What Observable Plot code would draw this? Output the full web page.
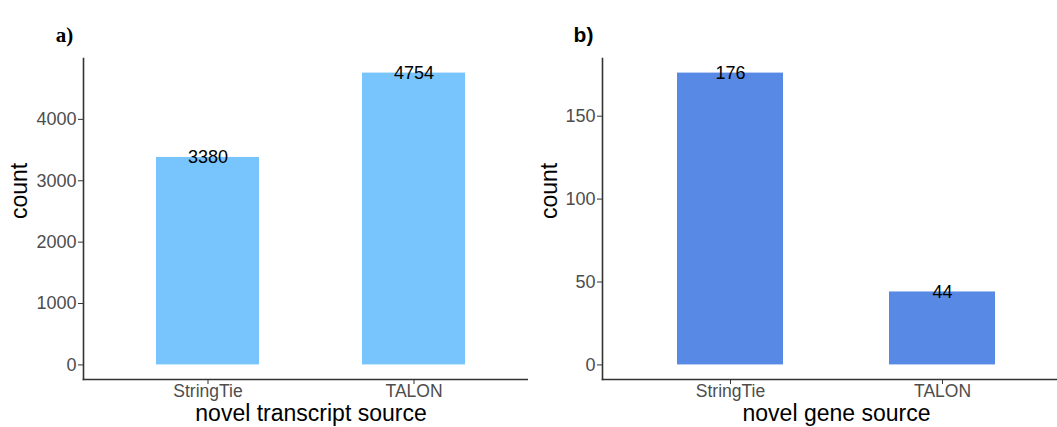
<!DOCTYPE html>
<html>
<head>
<meta charset="utf-8">
<script src="https://cdn.jsdelivr.net/npm/d3@7"></script>
<script src="https://cdn.jsdelivr.net/npm/@observablehq/plot@0.6"></script>
<style>
  html, body { margin: 0; padding: 0; background: #fff; }
  #wrap { position: relative; width: 1057px; height: 427px; overflow: hidden; }
  .panel { position: absolute; top: 0; overflow: hidden; height: 427px; }
  .panel svg { max-width: none !important; height: 427px !important; }
  #pa { left: 0; width: 533px; }
  #pb { left: 528px; width: 529px; }
</style>
</head>
<body>
<div id="wrap"><div class="panel" id="pa"></div><div class="panel" id="pb"></div></div>
<script>
const sources = ["StringTie", "TALON"];
const transcriptCounts = [3380, 4754];
const geneCounts = [176, 44];
const transcriptTicks = [0, 1000, 2000, 3000, 4000];
const geneTicks = [0, 50, 100, 150];
const panelTags = ["a)", "b)"];
const xTitles = ["novel transcript source", "novel gene source"];
const yTitle = "count";

function panel({counts, ticks, color, xTitle, tag, tagFont, width, marginLeft, titleDx}) {
  const data = sources.map((s, i) => ({source: s, count: counts[i]}));
  const max = d3.max(counts);
  return Plot.plot({
    width, height: 427,
    marginLeft, marginRight: 0, marginTop: 58, marginBottom: 48,
    style: {fontFamily: "'Liberation Sans', Arial, sans-serif", fontSize: "18px", background: "white", overflow: "visible", maxWidth: "none"},
    x: {type: "band", domain: sources, paddingInner: 0.5, paddingOuter: 0.35, label: null},
    y: {domain: [-0.05 * max, 1.05 * max], label: null},
    marks: [
      Plot.barY(data, {x: "source", y1: 0, y2: "count", fill: color}),
      Plot.text(data, {x: "source", y: "count", text: d => String(d.count), fill: "black", fontSize: 18}),
      Plot.frame({anchor: "left", stroke: "#333", strokeWidth: 1.6}),
      Plot.frame({anchor: "bottom", stroke: "#333", strokeWidth: 1.6}),
      Plot.axisY({ticks, tickFormat: d3.format("d"), tickSize: 5, tickPadding: 2, stroke: "#333", fill: "#4d4d4d", fontSize: 18, label: null}),
      Plot.axisX({tickSize: 5, tickPadding: 0, stroke: "#333", fill: "#4d4d4d", fontSize: 17.5, label: null}),
      Plot.text([xTitle], {frameAnchor: "bottom", dy: 41, text: d => d, fontSize: 23, fill: "black"}),
      Plot.text([yTitle], {frameAnchor: "left", dx: titleDx, rotate: -90, text: d => d, fontSize: 23, fill: "black"}),
      Plot.text([tag], {frameAnchor: "top-left", dx: -19, dy: -31, text: d => d, fontSize: 21, fontWeight: "bold", fontFamily: tagFont, fill: "black", textAnchor: "middle"})
    ]
  });
}

document.getElementById("pa").append(panel({
  counts: transcriptCounts, ticks: transcriptTicks, color: "#78C4FC",
  xTitle: xTitles[0], tag: panelTags[0], tagFont: "'Liberation Serif', 'Times New Roman', serif",
  width: 538, marginLeft: 83, titleDx: -64
}));
document.getElementById("pb").append(panel({
  counts: geneCounts, ticks: geneTicks, color: "#5889E4",
  xTitle: xTitles[1], tag: panelTags[1], tagFont: "'Liberation Sans', Arial, sans-serif",
  width: 542, marginLeft: 74, titleDx: -53
}));
</script>
</body>
</html>
